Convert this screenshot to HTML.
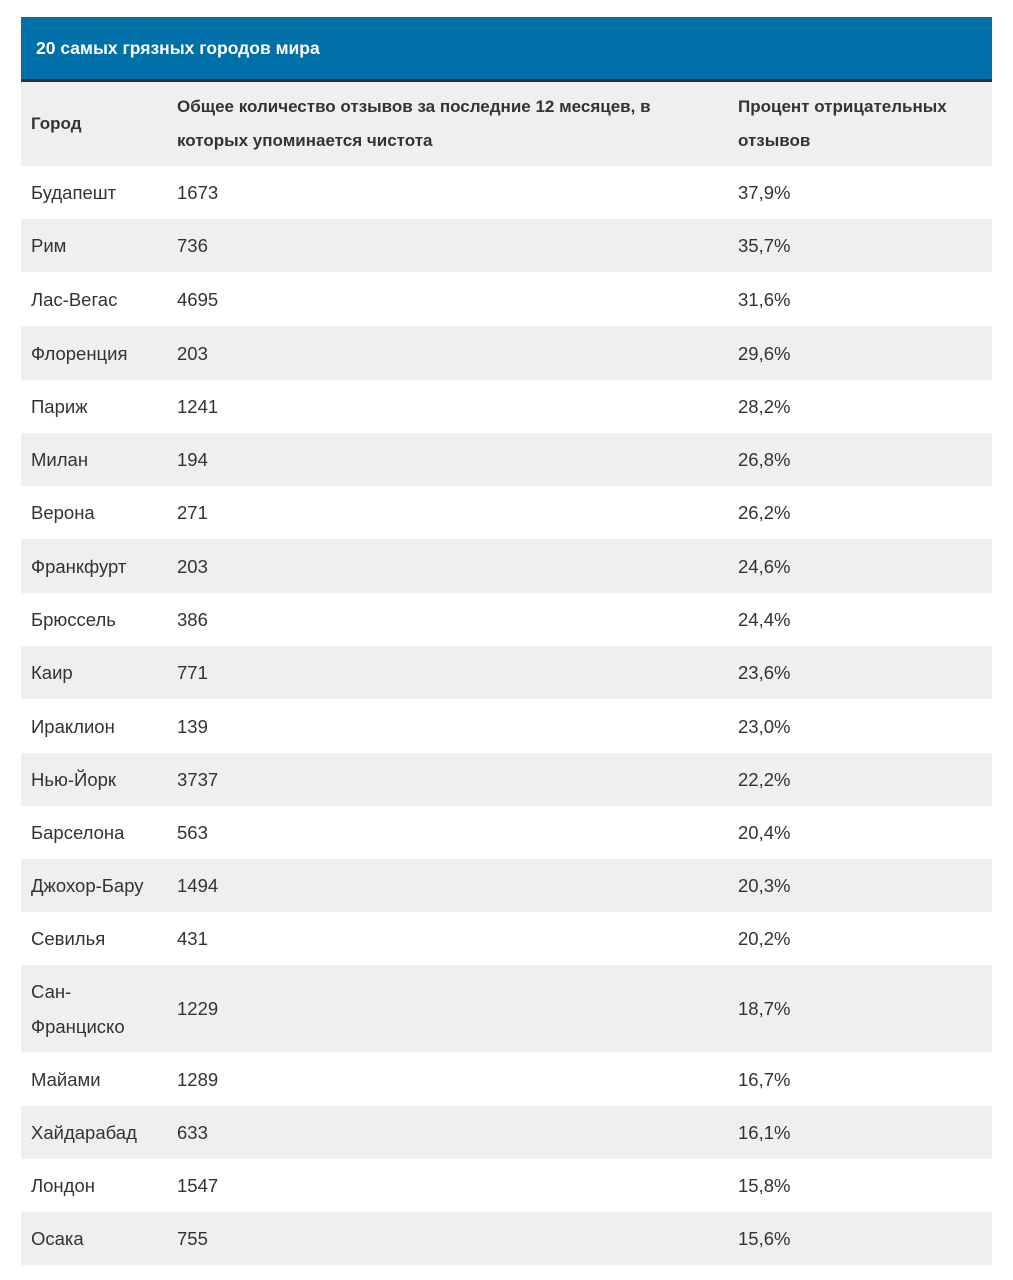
<!DOCTYPE html>
<html><head><meta charset="utf-8"><style>
body{margin:0;background:#fff;width:1013px;height:1280px;font-family:"Liberation Sans","DejaVu Sans",sans-serif;color:#333;}
.wrap{position:absolute;left:21px;top:17px;width:971px;}
.title{background:#0070a8;height:62px;border-bottom:3px solid #2f3338;color:#fff;font-weight:bold;font-size:17.5px;line-height:62px;padding-left:15px;box-sizing:content-box;}
table{border-collapse:collapse;width:971px;table-layout:fixed;}
td,th{padding:0 0 0 10px;text-align:left;vertical-align:middle;font-size:18.5px;}
th{font-weight:bold;font-size:17px;line-height:34px;height:84px;background:#efefef;}
th.c2{padding-right:60px;}
tr.g td{background:#efefef;}
td{line-height:35px;}
</style></head><body><div class="wrap">
<div class="title">20 самых грязных городов мира</div>
<table>
<colgroup><col style="width:146px"><col style="width:561px"><col style="width:264px"></colgroup>
<tr><th>Город</th><th class="c2">Общее количество отзывов за последние 12 месяцев, в которых упоминается чистота</th><th>Процент отрицательных отзывов</th></tr>
<tr style="height:53px"><td>Будапешт</td><td>1673</td><td>37,9%</td></tr>
<tr class="g" style="height:53px"><td>Рим</td><td>736</td><td>35,7%</td></tr>
<tr style="height:54px"><td>Лас-Вегас</td><td>4695</td><td>31,6%</td></tr>
<tr class="g" style="height:54px"><td>Флоренция</td><td>203</td><td>29,6%</td></tr>
<tr style="height:53px"><td>Париж</td><td>1241</td><td>28,2%</td></tr>
<tr class="g" style="height:53px"><td>Милан</td><td>194</td><td>26,8%</td></tr>
<tr style="height:53px"><td>Верона</td><td>271</td><td>26,2%</td></tr>
<tr class="g" style="height:54px"><td>Франкфурт</td><td>203</td><td>24,6%</td></tr>
<tr style="height:53px"><td>Брюссель</td><td>386</td><td>24,4%</td></tr>
<tr class="g" style="height:53px"><td>Каир</td><td>771</td><td>23,6%</td></tr>
<tr style="height:54px"><td>Ираклион</td><td>139</td><td>23,0%</td></tr>
<tr class="g" style="height:53px"><td>Нью-Йорк</td><td>3737</td><td>22,2%</td></tr>
<tr style="height:53px"><td>Барселона</td><td>563</td><td>20,4%</td></tr>
<tr class="g" style="height:53px"><td>Джохор-Бару</td><td>1494</td><td>20,3%</td></tr>
<tr style="height:53px"><td>Севилья</td><td>431</td><td>20,2%</td></tr>
<tr class="g" style="height:87px"><td>Сан-<br>Франциско</td><td>1229</td><td>18,7%</td></tr>
<tr style="height:54px"><td>Майами</td><td>1289</td><td>16,7%</td></tr>
<tr class="g" style="height:53px"><td>Хайдарабад</td><td>633</td><td>16,1%</td></tr>
<tr style="height:53px"><td>Лондон</td><td>1547</td><td>15,8%</td></tr>
<tr class="g" style="height:53px"><td>Осака</td><td>755</td><td>15,6%</td></tr>
</table></div></body></html>
